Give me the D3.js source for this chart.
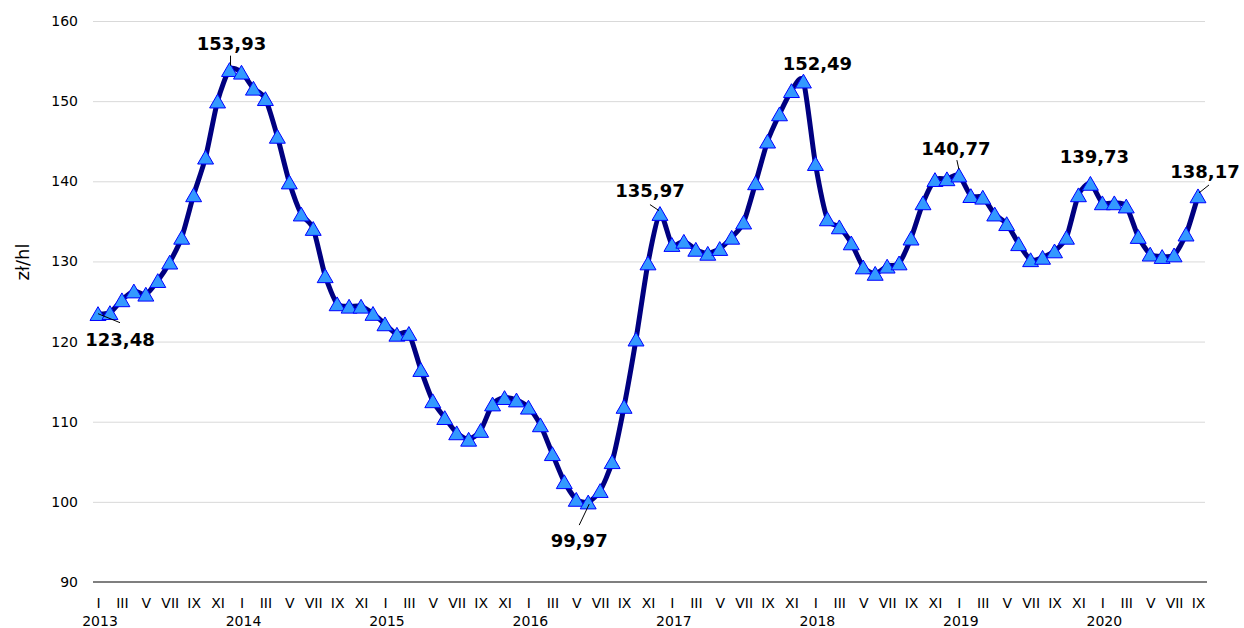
<!DOCTYPE html>
<html>
<head>
<meta charset="utf-8">
<script src="https://cdn.jsdelivr.net/npm/d3@7"></script>
<style>
  body { margin: 0; background: #fff; }
  svg { display: block; font-family: "DejaVu Sans", Verdana, sans-serif; }
</style>
</head>
<body>
<svg id="chart"></svg>
<script>
// monthly price, zł/hl
var years = ["2013", "2014", "2015", "2016", "2017", "2018", "2019", "2020"];
var months = ["I", "II", "III", "IV", "V", "VI", "VII", "VIII", "IX", "X", "XI", "XII"];
var v2013 = [123.48, 123.6, 125.2, 126.3, 125.9, 127.6, 129.9, 133.0, 138.3, 143.0, 150.0, 153.93];
var v2014 = [153.6, 151.6, 150.3, 145.6, 139.9, 135.9, 134.1, 128.2, 124.7, 124.4, 124.4, 123.5];
var v2015 = [122.2, 120.9, 121.0, 116.5, 112.6, 110.5, 108.6, 107.8, 108.9, 112.2, 113.0, 112.7];
var v2016 = [111.8, 109.6, 106.0, 102.5, 100.3, 99.97, 101.4, 105.0, 111.9, 120.3, 129.8, 135.97];
var v2017 = [132.1, 132.5, 131.5, 131.0, 131.6, 133.0, 134.9, 139.8, 145.0, 148.4, 151.3, 152.49];
var v2018 = [142.2, 135.3, 134.3, 132.3, 129.3, 128.5, 129.4, 129.8, 132.9, 137.3, 140.2, 140.3];
var v2019 = [140.77, 138.2, 138.0, 135.9, 134.7, 132.2, 130.2, 130.5, 131.3, 133.0, 138.3, 139.73];
var v2020 = [137.3, 137.3, 136.9, 133.1, 130.9, 130.6, 130.8, 133.4, 138.17];
var yTicks = [90, 100, 110, 120, 130, 140, 150, 160];

var data = [];
[v2013, v2014, v2015, v2016, v2017, v2018, v2019, v2020].forEach(function (arr, yi) {
    arr.forEach(function (v, mi) {
        data.push({i: yi * 12 + mi, year: years[yi], month: months[mi], value: v});
    });
});

// labelled points: index into data, label offset (dx, dy) and leader line
var notes = [
    {i: 0,  dx: 22,  dy: 32,  lx1: 0,  ly1: 0,   lx2: 22, ly2: 9},
    {i: 11, dx: 2,   dy: -20, lx1: 1,  ly1: -4,  lx2: 1,  ly2: -14},
    {i: 41, dx: -9,  dy: 45,  lx1: 1,  ly1: 2,   lx2: -9, ly2: 23},
    {i: 47, dx: -10, dy: -17, lx1: -1, ly1: -3,  lx2: -10, ly2: -9},
    {i: 59, dx: 14,  dy: -11, lx1: 0,  ly1: 0,   lx2: 0,  ly2: 0},
    {i: 72, dx: -3,  dy: -20, lx1: 0,  ly1: -6,  lx2: -2, ly2: -15},
    {i: 83, dx: 4,   dy: -20, lx1: 0,  ly1: 0,   lx2: 0,  ly2: 0},
    {i: 92, dx: 7,   dy: -18, lx1: 1,  ly1: -3,  lx2: 11, ly2: -11}
];

var width = 1244;
var height = 628;
var svg = d3.select("#chart")
    .attr("width", width)
    .attr("height", height);

var xScale = d3.scaleLinear()
    .domain([0, 92])
    .range([98, 1198]);

var yScale = d3.scaleLinear()
    .domain([90, 160])
    .range([582, 21]);

// gridlines
svg.append("g")
    .selectAll("line")
    .data(yTicks.filter(function (t) { return t > 90; }))
    .enter().append("line")
    .attr("x1", 93)
    .attr("x2", 1205)
    .attr("y1", function (d) { return yScale(d) + 0.5; })
    .attr("y2", function (d) { return yScale(d) + 0.5; })
    .attr("stroke", "#d9d9d9")
    .attr("stroke-width", 1);

// y axis labels
var yAxis = d3.axisLeft(yScale).tickValues(yTicks).tickSize(0).tickPadding(0);
var gy = svg.append("g")
    .attr("transform", "translate(78,0)")
    .call(yAxis);
gy.select(".domain").remove();
gy.selectAll("text")
    .style("font-size", "14px")
    .attr("fill", "#000")
    .attr("font-family", "DejaVu Sans, Verdana, sans-serif");

svg.append("text")
    .attr("transform", "translate(29,262)rotate(-90)")
    .attr("text-anchor", "middle")
    .style("font-size", "18px")
    .attr("fill", "#000")
    .text("zł/hl");

// x axis: odd months
var gx = svg.append("g")
    .attr("transform", "translate(0,582)")
    .call(d3.axisBottom(xScale)
        .tickValues(data.filter(function (d) { return d.i % 2 === 0; }).map(function (d) { return d.i; }))
        .tickFormat(function (i) { return data[i].month; })
        .tickSize(0)
        .tickPadding(16));
gx.select(".domain").remove();
gx.selectAll("text")
    .style("font-size", "14px")
    .attr("fill", "#000")
    .attr("font-family", "DejaVu Sans, Verdana, sans-serif");

svg.append("line")
    .attr("x1", 93)
    .attr("x2", 1207)
    .attr("y1", 582)
    .attr("y2", 582)
    .attr("stroke", "#7f7f7f")
    .attr("stroke-width", 2);

svg.append("g")
    .selectAll("text")
    .data(years)
    .enter().append("text")
    .attr("x", function (d, k) { return xScale(k * 12) + 2; })
    .attr("y", 626)
    .attr("text-anchor", "middle")
    .style("font-size", "14px")
    .attr("fill", "#000")
    .text(function (d) { return d; });

// series
var line = d3.line()
    .x(function (d) { return xScale(d.i); })
    .y(function (d) { return yScale(d.value); })
    .curve(d3.curveCardinal.tension(0.3));

svg.append("path")
    .datum(data)
    .attr("d", line)
    .attr("fill", "none")
    .attr("stroke", "#000080")
    .attr("stroke-width", 5)
    .attr("stroke-linejoin", "round");

// triangles centred on their box, like the original markers
svg.append("g")
    .selectAll("path")
    .data(data)
    .enter().append("path")
    .attr("d", d3.symbol().type(d3.symbolTriangle).size(110))
    .attr("transform", function (d) {
        return "translate(" + xScale(d.i) + "," + (yScale(d.value) + 2.2) + ")";
    })
    .attr("fill", "#3399ff")
    .attr("stroke", "#0000ff")
    .attr("stroke-width", 1);

// annotations
var fmt = function (v) { return d3.format(".2f")(v).replace(".", ","); };
var ann = svg.append("g");
notes.forEach(function (n) {
    var d = data[n.i];
    var px = xScale(d.i), py = yScale(d.value);
    if (n.lx1 !== n.lx2 || n.ly1 !== n.ly2) {
        ann.append("line")
            .attr("x1", px + n.lx1)
            .attr("y1", py + n.ly1)
            .attr("x2", px + n.lx2)
            .attr("y2", py + n.ly2)
            .attr("stroke", "#000")
            .attr("stroke-width", 1);
    }
    ann.append("text")
        .attr("x", px + n.dx)
        .attr("y", py + n.dy)
        .attr("text-anchor", "middle")
        .style("font-size", "18px")
        .style("font-weight", "bold")
        .attr("fill", "#000")
        .text(fmt(d.value));
});
</script>
</body>
</html>
